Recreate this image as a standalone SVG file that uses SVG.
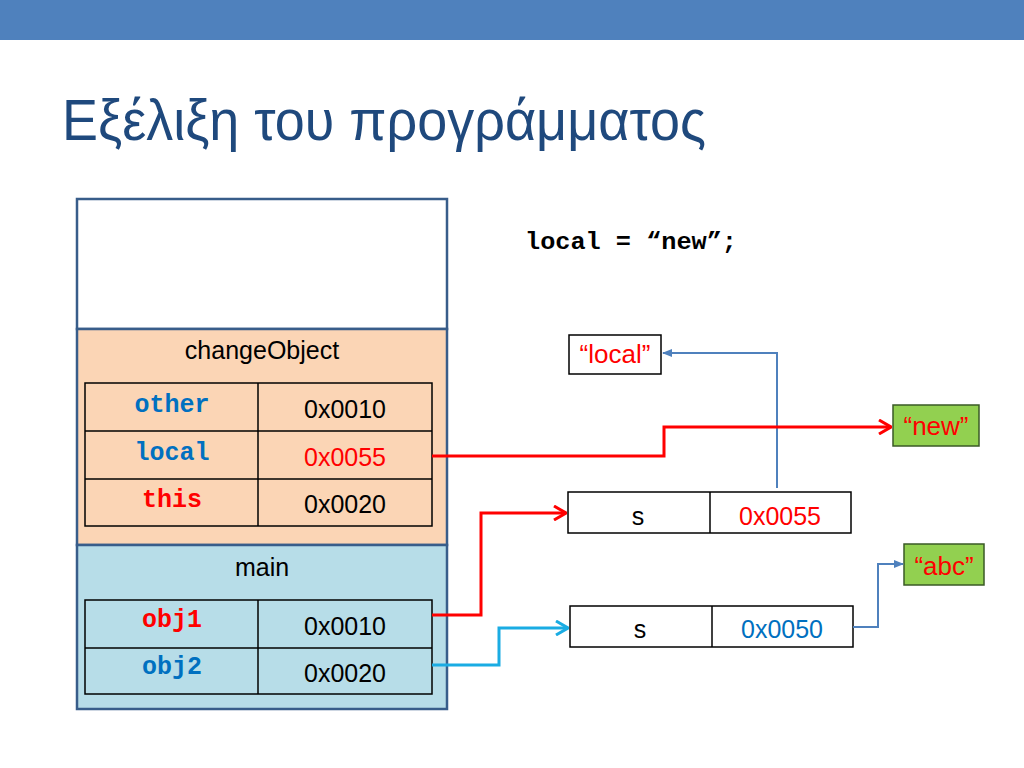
<svg xmlns="http://www.w3.org/2000/svg" width="1024" height="768" viewBox="0 0 1024 768">
<defs>
<style>
.lbl{font-family:"Liberation Sans",Arial,sans-serif;font-size:25px;text-anchor:middle;fill:#000}
.s{font-size:26px}
.code{font-family:"Liberation Mono","Courier New",monospace;font-size:25px;font-weight:bold;text-anchor:middle}
.blue{fill:#0070C0}
.red{fill:#FF0000}
.cell{stroke:#000;stroke-width:1.5}
.frame{stroke:#385D8A;stroke-width:2.5}
.box{fill:#fff;stroke:#000;stroke-width:1.5}
.str{fill:#92D050;stroke:#3A5A26;stroke-width:1.5}
.conn{fill:none}
</style>
<marker id="ahRed" viewBox="0 0 14 16" refX="13" refY="8" markerWidth="14" markerHeight="16" markerUnits="userSpaceOnUse" orient="auto">
<path d="M1,1 L13,8 L1,15" fill="none" stroke="#FF0000" stroke-width="3"/>
</marker>
<marker id="ahCyan" viewBox="0 0 14 16" refX="13" refY="8" markerWidth="14" markerHeight="16" markerUnits="userSpaceOnUse" orient="auto">
<path d="M1,1 L13,8 L1,15" fill="none" stroke="#1AACE3" stroke-width="3"/>
</marker>
<marker id="ahSteel" viewBox="0 0 10 10" refX="9" refY="5" markerWidth="10" markerHeight="10" markerUnits="userSpaceOnUse" orient="auto">
<path d="M0,1 L10,5 L0,9 Z" fill="#4F81BD"/>
</marker>
</defs>
<rect width="1024" height="768" fill="#fff"/>
<rect x="0" y="0" width="1024" height="40" fill="#4F81BD"/>
<text x="62" y="140" font-family="'Liberation Sans',Arial,sans-serif" font-size="58" fill="#1F497D" textLength="644" lengthAdjust="spacingAndGlyphs">Εξέλιξη του προγράμματος</text>

<g id="stack">
<rect x="77" y="199" width="370" height="130" fill="#fff" class="frame"/>
<rect x="77" y="329" width="370" height="216" fill="#FBD5B5" class="frame"/>
<rect x="77" y="545" width="370" height="164" fill="#B7DDE8" class="frame"/>
</g>

<g id="changeObject">
<text class="lbl" x="262" y="359">changeObject</text>
<rect x="85" y="383" width="347" height="143" fill="none" class="cell"/>
<line x1="85" y1="431" x2="432" y2="431" class="cell"/>
<line x1="85" y1="479" x2="432" y2="479" class="cell"/>
<line x1="258" y1="383" x2="258" y2="526" class="cell"/>
<text class="code blue" x="172" y="412">other</text>
<text class="lbl" x="345" y="418">0x0010</text>
<text class="code blue" x="172" y="460">local</text>
<text class="lbl red" x="345" y="466">0x0055</text>
<text class="code red" x="172" y="507">this</text>
<text class="lbl" x="345" y="513">0x0020</text>
</g>

<g id="main">
<text class="lbl" x="262" y="576">main</text>
<rect x="85" y="600" width="347" height="94" fill="none" class="cell"/>
<line x1="85" y1="648" x2="432" y2="648" class="cell"/>
<line x1="258" y1="600" x2="258" y2="694" class="cell"/>
<text class="code red" x="172" y="627">obj1</text>
<text class="lbl" x="345" y="635">0x0010</text>
<text class="code blue" x="172" y="674">obj2</text>
<text class="lbl" x="345" y="682">0x0020</text>
</g>

<g id="code">
<text x="525" y="249" font-family="'Liberation Mono','Courier New',monospace" font-size="24" font-weight="bold" fill="#000" textLength="212" lengthAdjust="spacingAndGlyphs">local = “new”;</text>
</g>

<g id="strLocal">
<rect x="569" y="335" width="92" height="39" class="box"/>
<text class="lbl s red" x="615" y="363">“local”</text>
</g>

<g id="strNew">
<rect x="893" y="405" width="86" height="41" class="str"/>
<text class="lbl s red" x="936" y="435">“new”</text>
</g>

<g id="strAbc">
<rect x="904" y="544" width="80" height="41" class="str"/>
<text class="lbl s red" x="944" y="575">“abc”</text>
</g>

<g id="obj1">
<rect x="568" y="492" width="283" height="41" class="box"/>
<line x1="710" y1="492" x2="710" y2="533" class="cell"/>
<text class="lbl" x="638" y="525">s</text>
<text class="lbl red" x="780" y="525">0x0055</text>
</g>

<g id="obj2">
<rect x="570" y="606" width="283" height="41" class="box"/>
<line x1="712" y1="606" x2="712" y2="647" class="cell"/>
<text class="lbl" x="640" y="638">s</text>
<text class="lbl blue" x="782" y="638">0x0050</text>
</g>

<g id="connectors" class="conn">
<polyline points="777,488 777,353 663,353" stroke="#4F81BD" stroke-width="2" fill="none" marker-end="url(#ahSteel)"/>
<polyline points="432,456 664,456 664,427 891,427" stroke="#FF0000" stroke-width="3" fill="none" marker-end="url(#ahRed)"/>
<polyline points="432,615 481,615 481,513 566,513" stroke="#FF0000" stroke-width="3" fill="none" marker-end="url(#ahRed)"/>
<polyline points="432,665 499,665 499,628 568,628" stroke="#1AACE3" stroke-width="3" fill="none" marker-end="url(#ahCyan)"/>
<polyline points="853,627 878,627 878,564 903,564" stroke="#4F81BD" stroke-width="2" fill="none" marker-end="url(#ahSteel)"/>
</g>
</svg>
